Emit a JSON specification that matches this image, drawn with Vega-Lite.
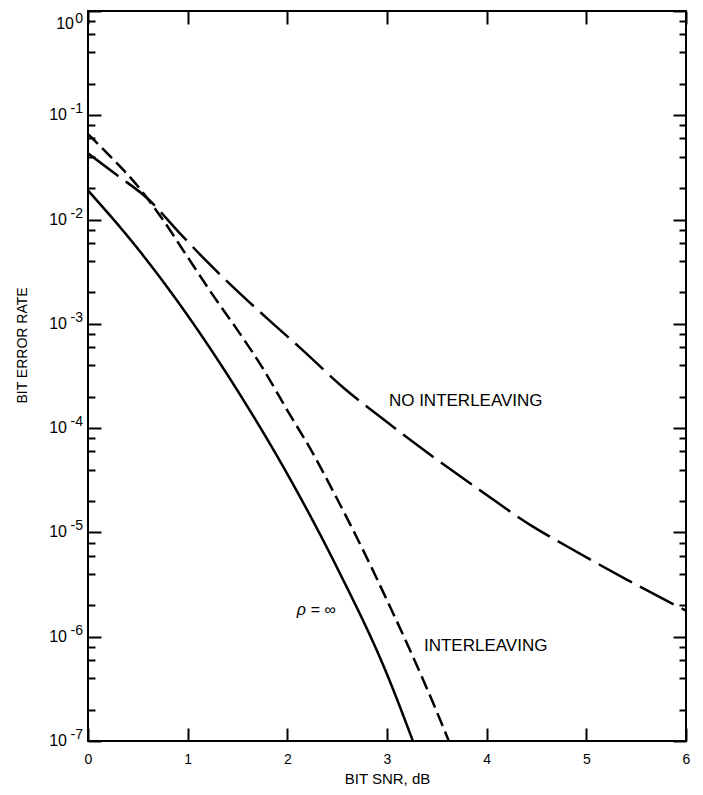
{
  "$schema": "https://vega.github.io/schema/vega-lite/v6.json",
  "width": 598,
  "height": 730,
  "autosize": {"type": "none"},
  "padding": {"left": 88, "top": 11, "right": 17, "bottom": 54},
  "background": "white",
  "config": {
    "view": {"stroke": "black", "strokeWidth": 2},
    "text": {"font": "Liberation Sans", "color": "black"}
  },
  "datasets": {
    "curves": [
      {"curve": "inf", "snr": 0, "ber": 0.01905},
      {"curve": "inf", "snr": 0.5, "ber": 0.005248},
      {"curve": "inf", "snr": 1.0, "ber": 0.001202},
      {"curve": "inf", "snr": 1.5, "ber": 0.0002291},
      {"curve": "inf", "snr": 2.0, "ber": 0.00003631},
      {"curve": "inf", "snr": 2.5, "ber": 0.000004571},
      {"curve": "inf", "snr": 3.0, "ber": 0.0000004365},
      {"curve": "inf", "snr": 3.26, "ber": 0.0000001},
      {"curve": "interleaving", "snr": 0, "ber": 0.0661},
      {"curve": "interleaving", "snr": 0.25, "ber": 0.03802},
      {"curve": "interleaving", "snr": 0.5, "ber": 0.02089},
      {"curve": "interleaving", "snr": 0.75, "ber": 0.01},
      {"curve": "interleaving", "snr": 1.0, "ber": 0.004365},
      {"curve": "interleaving", "snr": 1.25, "ber": 0.001905},
      {"curve": "interleaving", "snr": 1.5, "ber": 0.000871},
      {"curve": "interleaving", "snr": 1.75, "ber": 0.0003802},
      {"curve": "interleaving", "snr": 2.0, "ber": 0.0001479},
      {"curve": "interleaving", "snr": 2.25, "ber": 0.00005888},
      {"curve": "interleaving", "snr": 2.5, "ber": 0.0000209},
      {"curve": "interleaving", "snr": 2.75, "ber": 0.000007079},
      {"curve": "interleaving", "snr": 3.0, "ber": 0.000002239},
      {"curve": "interleaving", "snr": 3.25, "ber": 0.0000006761},
      {"curve": "interleaving", "snr": 3.5, "ber": 0.0000001905},
      {"curve": "interleaving", "snr": 3.62, "ber": 0.0000001},
      {"curve": "none", "snr": 0, "ber": 0.04315},
      {"curve": "none", "snr": 0.3, "ber": 0.0263},
      {"curve": "none", "snr": 0.6, "ber": 0.01585},
      {"curve": "none", "snr": 0.91, "ber": 0.007586},
      {"curve": "none", "snr": 1.16, "ber": 0.004266},
      {"curve": "none", "snr": 1.47, "ber": 0.002188},
      {"curve": "none", "snr": 1.8, "ber": 0.001122},
      {"curve": "none", "snr": 2.14, "ber": 0.0005754},
      {"curve": "none", "snr": 2.56, "ber": 0.0002455},
      {"curve": "none", "snr": 2.97, "ber": 0.0001202},
      {"curve": "none", "snr": 3.37, "ber": 0.00006166},
      {"curve": "none", "snr": 3.94, "ber": 0.00002512},
      {"curve": "none", "snr": 4.44, "ber": 0.00001175},
      {"curve": "none", "snr": 4.8, "ber": 0.000007413},
      {"curve": "none", "snr": 5.4, "ber": 0.000003548},
      {"curve": "none", "snr": 6.0, "ber": 0.000001778}
    ],
    "labels": [
      {"label": "NO INTERLEAVING", "snr": 3.79, "ber": 0.000182},
      {"label": "INTERLEAVING", "snr": 3.99, "ber": 0.00000081}
    ],
    "rho": [
      {"label": "ρ = ∞", "snr": 2.29, "ber": 0.00000182}
    ],
    "powers": [
      {"v": 1, "e": "0"},
      {"v": 0.1, "e": "-1"},
      {"v": 0.01, "e": "-2"},
      {"v": 0.001, "e": "-3"},
      {"v": 0.0001, "e": "-4"},
      {"v": 0.00001, "e": "-5"},
      {"v": 0.000001, "e": "-6"},
      {"v": 0.0000001, "e": "-7"}
    ]
  },
  "layer": [
    {
      "data": {"name": "curves"},
      "mark": {"type": "line", "interpolate": "monotone", "strokeWidth": 2.5, "color": "black", "clip": true},
      "encoding": {
        "x": {
          "field": "snr", "type": "quantitative",
          "scale": {"domain": [0, 6], "nice": false, "zero": false},
          "axis": {
            "orient": "bottom", "values": [0, 1, 2, 3, 4, 5, 6], "format": "d",
            "domain": false, "grid": false,
            "tickSize": -13, "tickWidth": 2, "tickColor": "black",
            "labelFont": "Liberation Sans", "labelFontSize": 14, "labelColor": "black",
            "labelPadding": 24, "labelFlush": false, "labelOverlap": false,
            "title": "BIT SNR, dB", "titleFont": "Liberation Sans", "titleFontSize": 15,
            "titleFontWeight": "normal", "titleColor": "black", "titlePadding": 5
          }
        },
        "y": {
          "field": "ber", "type": "quantitative",
          "scale": {"type": "log", "domain": [0.0000001, 1], "nice": false},
          "axis": {
            "orient": "left",
            "values": [0.0000001, 0.0000002, 0.0000004, 0.0000006, 0.0000008, 0.000001, 0.000002, 0.000004, 0.000006, 0.000008, 0.00001, 0.00002, 0.00004, 0.00006, 0.00008, 0.0001, 0.0002, 0.0004, 0.0006, 0.0008, 0.001, 0.002, 0.004, 0.006, 0.008, 0.01, 0.02, 0.04, 0.06, 0.08, 0.1, 0.2, 0.4, 0.6, 0.8, 1],
            "labels": false,
            "domain": false, "grid": false,
            "tickSize": {"condition": {"test": "abs(log(datum.value)/LN10 - round(log(datum.value)/LN10)) < 0.001", "value": -13}, "value": -7},
            "tickWidth": 2, "tickColor": "black",
            "title": "BIT ERROR RATE", "titleFont": "Liberation Sans", "titleFontSize": 14,
            "titleFontWeight": "normal", "titleColor": "black",
            "titleX": -66, "titleY": 334, "titleAngle": 270, "titleAlign": "center", "titleBaseline": "middle"
          }
        },
        "strokeDash": {
          "field": "curve", "type": "nominal",
          "scale": {"domain": ["inf", "interleaving", "none"], "range": [[1, 0], [14, 6], [38, 9]]},
          "legend": null
        }
      }
    },
    {
      "data": {"name": "labels"},
      "mark": {"type": "text", "fontSize": 17, "align": "center", "baseline": "middle", "font": "Liberation Sans"},
      "encoding": {
        "x": {
          "field": "snr", "type": "quantitative",
          "axis": {
            "orient": "top", "values": [0, 1, 2, 3, 4, 5, 6], "labels": false,
            "domain": false, "grid": false, "title": null,
            "tickSize": -13, "tickWidth": 2, "tickColor": "black"
          }
        },
        "y": {
          "field": "ber", "type": "quantitative",
          "axis": {
            "orient": "right",
            "values": [0.0000001, 0.0000002, 0.0000004, 0.0000006, 0.0000008, 0.000001, 0.000002, 0.000004, 0.000006, 0.000008, 0.00001, 0.00002, 0.00004, 0.00006, 0.00008, 0.0001, 0.0002, 0.0004, 0.0006, 0.0008, 0.001, 0.002, 0.004, 0.006, 0.008, 0.01, 0.02, 0.04, 0.06, 0.08, 0.1, 0.2, 0.4, 0.6, 0.8, 1],
            "labels": false, "domain": false, "grid": false, "title": null,
            "tickSize": {"condition": {"test": "abs(log(datum.value)/LN10 - round(log(datum.value)/LN10)) < 0.001", "value": -13}, "value": -7},
            "tickWidth": 2, "tickColor": "black"
          }
        },
        "text": {"field": "label"}
      }
    },
    {
      "data": {"name": "rho"},
      "mark": {"type": "text", "fontSize": 16, "fontStyle": "italic", "align": "center", "baseline": "middle", "font": "Liberation Sans"},
      "encoding": {
        "x": {"field": "snr", "type": "quantitative", "axis": null},
        "y": {"field": "ber", "type": "quantitative", "axis": null},
        "text": {"field": "label"}
      }
    },
    {
      "data": {"name": "powers"},
      "transform": [{"filter": "datum.e != '0'"}],
      "mark": {"type": "text", "fontSize": 16, "align": "right", "baseline": "middle", "dx": -21, "font": "Liberation Sans"},
      "encoding": {
        "x": {"datum": 0, "type": "quantitative", "axis": null},
        "y": {"field": "v", "type": "quantitative", "axis": null},
        "text": {"value": "10"}
      }
    },
    {
      "data": {"name": "powers"},
      "transform": [{"filter": "datum.e != '0'"}],
      "mark": {"type": "text", "fontSize": 14, "align": "right", "baseline": "middle", "dx": -5, "dy": -6, "font": "Liberation Sans"},
      "encoding": {
        "x": {"datum": 0, "type": "quantitative", "axis": null},
        "y": {"field": "v", "type": "quantitative", "axis": null},
        "text": {"field": "e"}
      }
    },
    {
      "data": {"name": "powers"},
      "transform": [{"filter": "datum.e == '0'"}],
      "mark": {"type": "text", "fontSize": 16, "align": "right", "baseline": "middle", "dx": -14, "dy": 13, "font": "Liberation Sans"},
      "encoding": {
        "x": {"datum": 0, "type": "quantitative", "axis": null},
        "y": {"field": "v", "type": "quantitative", "axis": null},
        "text": {"value": "10"}
      }
    },
    {
      "data": {"name": "powers"},
      "transform": [{"filter": "datum.e == '0'"}],
      "mark": {"type": "text", "fontSize": 14, "align": "right", "baseline": "middle", "dx": -5, "dy": 8, "font": "Liberation Sans"},
      "encoding": {
        "x": {"datum": 0, "type": "quantitative", "axis": null},
        "y": {"field": "v", "type": "quantitative", "axis": null},
        "text": {"field": "e"}
      }
    }
  ],
  "resolve": {"scale": {"x": "shared", "y": "shared"}, "axis": {"x": "independent", "y": "independent"}}
}
